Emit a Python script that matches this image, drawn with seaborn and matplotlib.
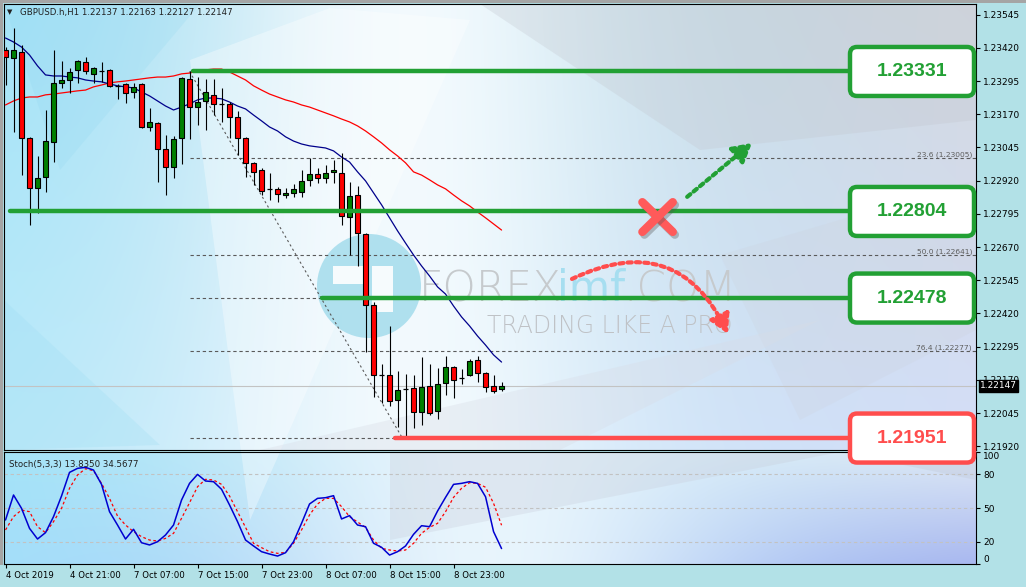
import matplotlib
matplotlib.use('Agg')
import matplotlib.pyplot as plt
import matplotlib.transforms as mtransforms
import matplotlib.patheffects as pe
from matplotlib.patches import FancyBboxPatch, FancyArrowPatch, Polygon, Circle, Rectangle
import numpy as np
import pandas as pd
import seaborn as sns

# ---------------------------------------------------------
# DATA
# ---------------------------------------------------------
opens = [1.23412, 1.23382, 1.23405, 1.23081, 1.22893, 1.22934, 1.23066, 1.23288, 1.23299, 1.23337,
         1.23367, 1.23322, 1.23333, 1.23337, 1.23277, 1.23284, 1.23254, 1.23284, 1.23122, 1.23137,
         1.23039, 1.22972, 1.23081, 1.23303, 1.23197, 1.23220, 1.23243, 1.23209, 1.23209, 1.23160,
         1.23081, 1.22987, 1.22960, 1.22889, 1.22889, 1.22866, 1.22874, 1.22877, 1.22923, 1.22945,
         1.22930, 1.22953, 1.22949, 1.22783, 1.22866, 1.22719, 1.22452, 1.22188, 1.22188, 1.22094,
         1.22136, 1.22139, 1.22049, 1.22147, 1.22053, 1.22158, 1.22219, 1.22177, 1.22188, 1.22245,
         1.22196, 1.22147, 1.22137]
highs = [1.23423, 1.23495, 1.23431, 1.23085, 1.23013, 1.23186, 1.23412, 1.23371, 1.23344, 1.23374,
         1.23386, 1.23346, 1.23367, 1.23340, 1.23284, 1.23288, 1.23288, 1.23288, 1.23194, 1.23141,
         1.23092, 1.23088, 1.23310, 1.23331, 1.23310, 1.23303, 1.23303, 1.23269, 1.23216, 1.23182,
         1.23085, 1.22990, 1.22968, 1.22949, 1.22896, 1.22893, 1.22908, 1.22960, 1.23005, 1.22968,
         1.22979, 1.22998, 1.23024, 1.22915, 1.22900, 1.22723, 1.22463, 1.22230, 1.22373, 1.22203,
         1.22192, 1.22188, 1.22256, 1.22230, 1.22215, 1.22260, 1.22222, 1.22211, 1.22249, 1.22260,
         1.22199, 1.22188, 1.22163]
lows = [1.23280, 1.23103, 1.22941, 1.22753, 1.22798, 1.22877, 1.22990, 1.23269, 1.23250, 1.23288,
        1.23322, 1.23288, 1.23292, 1.23273, 1.23228, 1.23213, 1.23231, 1.23118, 1.23107, 1.22915,
        1.22866, 1.22930, 1.22983, 1.23077, 1.23130, 1.23111, 1.23167, 1.23141, 1.23081, 1.23017,
        1.22934, 1.22904, 1.22866, 1.22847, 1.22840, 1.22855, 1.22859, 1.22859, 1.22900, 1.22911,
        1.22911, 1.22911, 1.22753, 1.22640, 1.22599, 1.22275, 1.22106, 1.22083, 1.22072, 1.21993,
        1.21951, 1.21989, 1.22000, 1.22038, 1.22023, 1.22113, 1.22102, 1.22155, 1.22185, 1.22162,
        1.22124, 1.22121, 1.22127]
closes = [1.23386, 1.23412, 1.23081, 1.22893, 1.22930, 1.23069, 1.23288, 1.23299, 1.23329, 1.23371,
          1.23333, 1.23344, 1.23333, 1.23277, 1.23277, 1.23250, 1.23273, 1.23122, 1.23141, 1.23039,
          1.22972, 1.23077, 1.23307, 1.23197, 1.23216, 1.23254, 1.23209, 1.23209, 1.23160, 1.23081,
          1.22987, 1.22953, 1.22881, 1.22889, 1.22870, 1.22874, 1.22889, 1.22919, 1.22945, 1.22930,
          1.22949, 1.22960, 1.22787, 1.22862, 1.22723, 1.22452, 1.22188, 1.22188, 1.22091, 1.22132,
          1.22136, 1.22049, 1.22143, 1.22045, 1.22155, 1.22219, 1.22170, 1.22177, 1.22241, 1.22196,
          1.22143, 1.22128, 1.22147]

ma_fast = [1.23457, 1.23442, 1.23423, 1.23393, 1.23352, 1.23318, 1.23314, 1.23314, 1.23310, 1.23307,
           1.23299, 1.23295, 1.23292, 1.23284, 1.23277, 1.23273, 1.23269, 1.23254, 1.23239, 1.23220,
           1.23201, 1.23186, 1.23197, 1.23209, 1.23224, 1.23231, 1.23231, 1.23228, 1.23216, 1.23201,
           1.23190, 1.23167, 1.23145, 1.23122, 1.23107, 1.23085, 1.23069, 1.23058, 1.23051, 1.23047,
           1.23043, 1.23032, 1.23009, 1.22990, 1.22953, 1.22919, 1.22874, 1.22829, 1.22780, 1.22731,
           1.22685, 1.22640, 1.22599, 1.22561, 1.22520, 1.22493, 1.22448, 1.22407, 1.22373, 1.22335,
           1.22301, 1.22264, 1.22237]
ma_slow = [1.23205, 1.23220, 1.23231, 1.23235, 1.23235, 1.23243, 1.23246, 1.23250, 1.23254, 1.23258,
           1.23261, 1.23273, 1.23280, 1.23288, 1.23292, 1.23295, 1.23299, 1.23303, 1.23307, 1.23310,
           1.23310, 1.23314, 1.23322, 1.23325, 1.23333, 1.23337, 1.23340, 1.23340, 1.23329, 1.23314,
           1.23299, 1.23277, 1.23261, 1.23246, 1.23235, 1.23224, 1.23216, 1.23205, 1.23197, 1.23186,
           1.23175, 1.23164, 1.23152, 1.23141, 1.23126, 1.23107, 1.23085, 1.23062, 1.23036, 1.23013,
           1.22987, 1.22953, 1.22941, 1.22923, 1.22904, 1.22889, 1.22866, 1.22844, 1.22825, 1.22802,
           1.22780, 1.22757, 1.22734]

stoch_k = [39.3, 61.6, 49.7, 31.8, 22.3, 28.0, 42.3, 60.7, 81.8, 85.4,
           86.3, 83.9, 71.1, 46.7, 34.8, 22.3, 31.0, 19.0, 17.0, 19.9,
           25.9, 34.8, 57.1, 72.0, 80.0, 74.1, 73.5, 66.7, 52.7, 37.8,
           21.4, 16.1, 11.0, 8.9, 7.1, 10.1, 19.9, 36.3, 53.6, 58.6,
           59.2, 61.0, 40.2, 43.2, 34.8, 33.3, 18.5, 14.9, 8.0, 11.0,
           16.1, 26.5, 34.2, 33.3, 47.3, 59.5, 71.1, 72.0, 73.5, 72.0,
           60.0, 28.9, 13.8]
stoch_d = [30.4, 42.3, 48.2, 46.7, 33.3, 28.0, 37.8, 49.7, 67.6, 79.5,
           85.1, 83.3, 72.0, 58.6, 42.8, 34.8, 28.9, 24.4, 21.4, 20.5,
           22.9, 27.4, 40.8, 54.7, 69.0, 75.6, 75.0, 71.1, 60.7, 46.7,
           32.7, 18.5, 14.6, 11.0, 9.5, 10.4, 18.5, 30.4, 43.8, 53.6,
           58.6, 58.6, 51.2, 42.3, 37.5, 32.7, 21.4, 14.0, 12.5, 11.6,
           12.5, 18.5, 27.4, 32.7, 36.3, 46.7, 59.5, 67.6, 72.6, 72.0,
           68.5, 54.2, 34.6]

time_labels = ['4 Oct 2019', '4 Oct 21:00', '7 Oct 07:00', '7 Oct 15:00',
               '7 Oct 23:00', '8 Oct 07:00', '8 Oct 15:00', '8 Oct 23:00']
time_label_bars = [0, 8, 16, 24, 32, 40, 48, 56]
price_ticks = [1.21920, 1.22045, 1.22170, 1.22295, 1.22420, 1.22545, 1.22670,
               1.22795, 1.22920, 1.23045, 1.23170, 1.23295, 1.23420, 1.23545]
stoch_ticks = [0, 20, 50, 80, 100]
stoch_levels = [20, 50, 80]

level_prices = [1.23331, 1.22804, 1.22478, 1.21951]
level_start_bar = [23.4, 0.6, 39.6, 48.7]
level_kind = ['support', 'support', 'support', 'low']

fib_pcts = [0.0, 23.6, 38.2, 50.0, 61.8, 76.4, 100.0]
fib_prices = [1.23331, 1.23005, 1.22804, 1.22641, 1.22478, 1.22277, 1.21951]
fib_start_bar = 23
fib_end_bar = 49.6

last_price = 1.22147
title_txt = 'GBPUSD.h,H1 1.22137 1.22163 1.22127 1.22147'
stoch_txt = 'Stoch(5,3,3) 13.8350 34.5677'

# ---------------------------------------------------------
# FIGURE
# ---------------------------------------------------------
sns.set_theme(style='white')
plt.rcParams['font.family'] = ['DejaVu Sans']
plt.rcParams['axes.linewidth'] = 0.8

W, H = 1026, 587
GREEN = '#22a034'
RED = '#ff4d4d'
fig = plt.figure(figsize=(W / 100, H / 100), dpi=100, facecolor='#b2e1e7')


def px_rect(x0, y0, x1, y1):
    return [x0 / W, 1 - y1 / H, (x1 - x0) / W, (y1 - y0) / H]


bg = fig.add_axes([0, 0, 1, 1], zorder=0)
ax = fig.add_axes(px_rect(4, 4, 976, 450), zorder=2, facecolor='none')
ax2 = fig.add_axes(px_rect(4, 452, 976, 564), zorder=2, facecolor='none', sharex=ax)
ov = fig.add_axes([0, 0, 1, 1], zorder=5, facecolor='none')


def panel_gradient(c_tl, c_tr, c_bl, c_br, c_mid, centre=0.42, spread=0.22):
    yy, xx = np.mgrid[0:1:90j, 0:1:180j]
    c_tl, c_tr, c_bl, c_br, c_mid = map(np.array, (c_tl, c_tr, c_bl, c_br, c_mid))
    top = (1 - xx)[..., None] * c_tl + xx[..., None] * c_tr
    bot = (1 - xx)[..., None] * c_bl + xx[..., None] * c_br
    img = (1 - yy)[..., None] * top + yy[..., None] * bot
    w = np.exp(-((xx - centre) / spread) ** 2)[..., None]
    return np.clip(img * (1 - w) + c_mid * w, 0, 1)


bg.imshow(panel_gradient((0.64, 0.89, 0.97), (0.83, 0.85, 0.88), (0.74, 0.92, 0.98),
                         (0.83, 0.87, 0.97), (0.95, 0.98, 0.995)),
          extent=(4, 976, 450, 4), aspect='auto', interpolation='bilinear', zorder=0)
bg.imshow(panel_gradient((0.64, 0.89, 0.97), (0.87, 0.91, 0.96), (0.64, 0.87, 0.98),
                         (0.66, 0.72, 0.94), (0.91, 0.96, 0.99), centre=0.5, spread=0.25),
          extent=(4, 976, 564, 452), aspect='auto', interpolation='bilinear', zorder=0)

# low poly shapes of the backdrop
shapes = [
    ([(4, 4), (200, 4), (60, 170)], '#8fd6f0', 0.22),
    ([(190, 60), (330, 8), (470, 20), (250, 520)], 'white', 0.35),
    ([(480, 4), (976, 4), (976, 120), (700, 150)], '#c2c6ce', 0.30),
    ([(720, 255), (976, 180), (976, 330), (800, 420)], '#ccd0da', 0.22),
    ([(4, 300), (160, 445), (4, 450)], '#9adcf2', 0.25),
    ([(260, 450), (820, 320), (560, 450)], '#d8dce6', 0.35),
    ([(390, 452), (840, 452), (390, 540)], '#c6cbd8', 0.30),
    ([(840, 452), (976, 452), (976, 480)], '#bec4d2', 0.30),
]
for pts, col, a in shapes:
    bg.add_patch(Polygon(pts, closed=True, fc=col, ec='none', alpha=a, zorder=1))

bg.add_patch(Rectangle((0, 0), W, 3, fc='#a5a5a5', ec='none', zorder=1))
bg.add_patch(Rectangle((0, 0), 3, 565, fc='#a5a5a5', ec='none', zorder=1))

# watermark
bg.add_patch(Circle((369, 286), 52, fc='#a4dcec', ec='none', alpha=0.85, zorder=2))
bg.add_patch(Rectangle((333, 266), 34, 18, fc='white', ec='none', alpha=0.9, zorder=2))
bg.add_patch(Rectangle((372, 266), 21, 46, fc='white', ec='none', alpha=0.9, zorder=2))
wm_font = ['DejaVu Sans']
t1 = bg.text(419, 301, 'FOREX', fontsize=30.5, color='#c6cacd', family=wm_font,
             fontweight='light', va='baseline', ha='left', zorder=2)
fig.canvas.draw()
r = fig.canvas.get_renderer()
x_next = bg.transData.inverted().transform(t1.get_window_extent(r))[1][0] + 2
t2 = bg.text(x_next, 301, 'imf', fontsize=30.5, color='#a6def0', family=wm_font,
             va='baseline', ha='left', zorder=2)
x_next = bg.transData.inverted().transform(t2.get_window_extent(r))[1][0] + 2
bg.text(x_next, 301, '.COM', fontsize=30.5, color='#c6cacd', family=wm_font,
        fontweight='light', va='baseline', ha='left', zorder=2)
bg.text(487, 333, 'TRADING LIKE A PRO', fontsize=17, color='#bfc2c6',
        family=wm_font, fontweight='light', va='baseline', ha='left', zorder=2)
bg.set_xlim(0, W)
bg.set_ylim(H, 0)
bg.axis('off')

# ---------------------------------------------------------
# MAIN PANEL
# ---------------------------------------------------------
df = pd.DataFrame({'bar': np.arange(len(opens)), 'open': opens, 'high': highs,
                   'low': lows, 'close': closes, 'ma_fast': ma_fast, 'ma_slow': ma_slow,
                   'k': stoch_k, 'd': stoch_d})

ax.set_xlim(-0.19, 121.3)
ax.set_ylim(1.21906, 1.23585)

# fibonacci retracement (labels of the boxed levels sit under the boxes, so they are skipped)
for pct, p in zip(fib_pcts, fib_prices):
    ax.plot([fib_start_bar, 125], [p, p], color='#5a5a5a', lw=0.8, ls=(0, (3, 2.5)), zorder=1)
    if p not in level_prices:
        ax.text(0.996, p, f'{pct:.1f} ({p:.5f})',
                transform=mtransforms.blended_transform_factory(ax.transAxes, ax.transData),
                ha='right', va='bottom', fontsize=5.4, color='#5e5e5e', zorder=1)
ax.plot([fib_start_bar, fib_end_bar], [fib_prices[0], fib_prices[-1]], color='#5a5a5a',
        lw=0.8, ls=(0, (2, 2.5)), zorder=1)

ax.axhline(last_price, color='#c3c3c3', lw=0.8, zorder=1)

sns.lineplot(data=df, x='bar', y='ma_slow', ax=ax, color='#ff0000', lw=0.9, legend=False, zorder=2)
sns.lineplot(data=df, x='bar', y='ma_fast', ax=ax, color='#00008b', lw=0.9, legend=False, zorder=2)

# candles
o = df['open'].values
c = df['close'].values
up = c >= o
solid = c != o
ax.vlines(df['bar'], df['low'], df['high'], color='black', lw=0.8, zorder=3)
ax.bar(df['bar'][solid], np.abs(c - o)[solid], bottom=np.minimum(o, c)[solid], width=0.68,
       color=np.where(up, '#008000', '#ff0000')[solid], edgecolor='black', lw=0.8, zorder=4)
ax.hlines(o[~solid], df['bar'][~solid] - 0.34, df['bar'][~solid] + 0.34, color='black', lw=0.9, zorder=4)

# support / resistance levels
level_end_bar = 105.6
for p, s, kind in zip(level_prices, level_start_bar, level_kind):
    col = GREEN if kind == 'support' else RED
    ax.plot([s, level_end_bar], [p, p], color=col, lw=3.2, solid_capstyle='round', zorder=5)

# sketch marks: cross, dotted arrows
x_c, p_c = 81.5, 1.22783
for sx in (-1, 1):
    ax.plot([x_c - 1.9, x_c + 1.9], [p_c - sx * 0.00056, p_c + sx * 0.00056], color='#ff5a5a', lw=6,
            solid_capstyle='round', zorder=6,
            path_effects=[pe.SimpleLineShadow(offset=(1.5, -2), shadow_color='#555555', alpha=0.35), pe.Normal()])
ax.add_patch(FancyArrowPatch((85.2, 1.22859), (93.3, 1.23062), arrowstyle='-|>,head_length=0.8,head_width=0.45',
                             mutation_scale=14, color=GREEN, lw=3, ls=(0, (1, 1)), shrinkA=0, shrinkB=0, zorder=6))
ax.add_patch(FancyArrowPatch((70.8, 1.22550), (90.3, 1.22343), connectionstyle='arc3,rad=-0.5',
                             arrowstyle='-|>,head_length=0.8,head_width=0.45', mutation_scale=14,
                             color=RED, lw=3, ls=(0, (1, 1)), shrinkA=0, shrinkB=0, zorder=6))

ax.yaxis.tick_right()
ax.set_yticks(price_ticks)
ax.set_yticklabels([f'{p:.5f}' for p in price_ticks])
ax.tick_params(axis='y', right=True, direction='out', length=3, width=0.8, labelsize=6.5, pad=2, colors='black')
ax.tick_params(axis='x', bottom=False, labelbottom=False)
ax.set_xlabel('')
ax.set_ylabel('')
for sp in ax.spines.values():
    sp.set_color('black')
    sp.set_linewidth(0.8)

ax.text(1.004, last_price, f'{last_price:.5f}',
        transform=mtransforms.blended_transform_factory(ax.transAxes, ax.transData),
        ha='left', va='center', fontsize=6.5, color='white', zorder=7,
        bbox=dict(fc='black', ec='black', pad=1.0), clip_on=False)

ax.text(0.0035, 0.982, '\u25bc', transform=ax.transAxes, fontsize=5, va='center', ha='left', color='#202020')
ax.text(0.0165, 0.982, title_txt, transform=ax.transAxes, fontsize=6.2, va='center', ha='left', color='#202020')

# ---------------------------------------------------------
# STOCHASTIC PANEL
# ---------------------------------------------------------
ax2.set_ylim(0, 100)
for lv in stoch_levels:
    ax2.axhline(lv, color='#c2c2c2', lw=0.8, ls=(0, (3, 2.5)), zorder=1)
sns.lineplot(data=df, x='bar', y='d', ax=ax2, color='#ff0000', lw=0.9, ls=(0, (2.2, 2)), legend=False, zorder=2)
sns.lineplot(data=df, x='bar', y='k', ax=ax2, color='#0000d0', lw=1.1, legend=False, zorder=3)

ax2.set_xticks(time_label_bars)
ax2.set_xticklabels(time_labels, ha='left')
ax2.tick_params(axis='x', bottom=True, direction='out', length=3, width=0.8, labelsize=6.2, pad=2, colors='black')
ax2.yaxis.tick_right()
ax2.set_yticks(stoch_ticks)
ax2.set_yticklabels([str(v) for v in stoch_ticks])
ax2.tick_params(axis='y', right=True, direction='out', length=3, width=0.8, labelsize=6.5, pad=2, colors='black')
for lab in ax2.get_yticklabels():
    if lab.get_text() == '100':
        lab.set_verticalalignment('top')
    elif lab.get_text() == '0':
        lab.set_verticalalignment('bottom')
ax2.set_xlabel('')
ax2.set_ylabel('')
ax2.set_xlim(-0.19, 121.3)
for sp in ax2.spines.values():
    sp.set_color('black')
    sp.set_linewidth(0.8)
ax2.text(0.0055, 0.93, stoch_txt, transform=ax2.transAxes, fontsize=6.2, va='top', ha='left', color='#202020')

# ---------------------------------------------------------
# LEVEL BOXES (overlay in pixel space)
# ---------------------------------------------------------
ov.set_xlim(0, W)
ov.set_ylim(H, 0)
ov.axis('off')
for p, kind in zip(level_prices, level_kind):
    col = GREEN if kind == 'support' else RED
    y_px = H - ax.transData.transform((0, p))[1]
    ov.add_patch(FancyBboxPatch((850, y_px - 24.5), 124, 49, boxstyle='round,pad=0,rounding_size=7',
                                fc='white', ec=col, lw=3.2, zorder=5))
    ov.text(912, y_px, f'{p:.5f}', ha='center', va='center', fontsize=14, fontweight='bold',
            color=col, family=['Liberation Sans', 'DejaVu Sans'], zorder=6)

fig.savefig('out.png', dpi=100)
